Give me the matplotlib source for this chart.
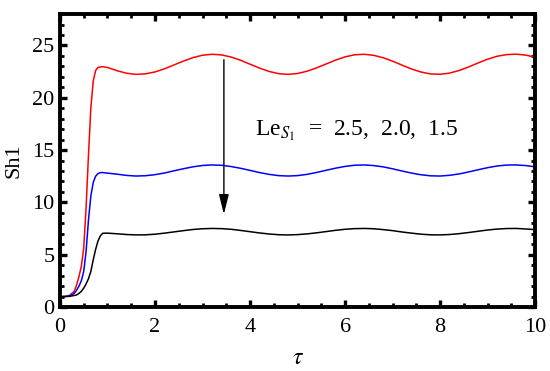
import matplotlib
matplotlib.use("Agg")
import matplotlib.pyplot as plt
from matplotlib.ticker import MultipleLocator

tau = [0, 0.1, 0.2, 0.3, 0.35, 0.4, 0.45, 0.5, 0.55, 0.6, 0.65, 0.7, 0.75, 0.8, 0.85, 0.9,
       1.0, 1.2, 1.4, 1.6, 1.8, 2.0, 2.2, 2.4, 2.6, 2.8, 3.0, 3.2, 3.4, 3.6, 3.8, 4.0,
       4.2, 4.4, 4.6, 4.8, 5.0, 5.2, 5.4, 5.6, 5.8, 6.0, 6.2, 6.4, 6.6, 6.8, 7.0, 7.2,
       7.4, 7.6, 7.8, 8.0, 8.2, 8.4, 8.6, 8.8, 9.0, 9.2, 9.4, 9.6, 9.8, 10.0]

sh1_le25 = [1.0, 1.0, 1.1, 1.5, 2.1, 2.9, 3.9, 5.6, 9.5, 14.5, 19.0, 21.6, 22.6, 22.9, 22.95, 22.97,
            22.9, 22.59, 22.35, 22.24, 22.29, 22.47, 22.77, 23.14, 23.51, 23.84, 24.07, 24.16, 24.10, 23.90, 23.59, 23.21,
            22.84, 22.52, 22.31, 22.24, 22.32, 22.54, 22.86, 23.23, 23.60, 23.91, 24.11, 24.16, 24.06, 23.83, 23.50, 23.12,
            22.75, 22.46, 22.28, 22.25, 22.36, 22.61, 22.95, 23.33, 23.69, 23.97, 24.13, 24.17, 24.08, 23.88]

sh1_le20 = [1.0, 1.0, 1.05, 1.3, 1.6, 2.0, 2.5, 3.4, 5.3, 8.3, 10.6, 11.9, 12.5, 12.75, 12.85, 12.85,
            12.80, 12.70, 12.58, 12.52, 12.55, 12.65, 12.81, 13.02, 13.22, 13.40, 13.53, 13.58, 13.55, 13.43, 13.26, 13.06,
            12.85, 12.68, 12.56, 12.52, 12.56, 12.68, 12.86, 13.07, 13.27, 13.44, 13.55, 13.58, 13.52, 13.40, 13.21, 13.00,
            12.80, 12.64, 12.54, 12.52, 12.59, 12.72, 12.91, 13.12, 13.32, 13.48, 13.57, 13.58, 13.52, 13.40]

sh1_le15 = [1.0, 1.0, 1.02, 1.1, 1.15, 1.3, 1.5, 1.8, 2.2, 2.7, 3.4, 4.5, 5.5, 6.3, 6.8, 7.05,
            7.06, 7.00, 6.93, 6.89, 6.90, 6.96, 7.06, 7.18, 7.30, 7.41, 7.48, 7.51, 7.49, 7.43, 7.32, 7.20,
            7.08, 6.98, 6.91, 6.89, 6.92, 6.99, 7.09, 7.21, 7.33, 7.43, 7.49, 7.51, 7.48, 7.40, 7.30, 7.17,
            7.06, 6.96, 6.90, 6.89, 6.93, 7.01, 7.12, 7.24, 7.36, 7.45, 7.50, 7.51, 7.46, 7.40]

plt.rcParams['font.family'] = ['Liberation Serif', 'DejaVu Serif']
plt.rcParams['mathtext.fontset'] = 'stix'

fig = plt.figure(figsize=(5.5, 3.71), dpi=100)
ax = fig.add_axes([0.109, 0.1725, 0.864, 0.7895])

ax.plot(tau, sh1_le25, color='#ff0000', lw=1.1)
ax.plot(tau, sh1_le20, color='#0000ff', lw=1.1)
ax.plot(tau, sh1_le15, color='#000000', lw=1.1)

ax.set_xlim(0, 10)
ax.set_ylim(0, 28)
ax.xaxis.set_major_locator(MultipleLocator(2))
ax.xaxis.set_minor_locator(MultipleLocator(0.5))
ax.yaxis.set_major_locator(MultipleLocator(5))
ax.yaxis.set_minor_locator(MultipleLocator(1))
ax.tick_params(which='both', direction='in', top=True, right=True, labelsize=16, color='black')
ax.tick_params(which='major', length=5, width=2.4)
ax.tick_params(which='minor', length=3, width=2.0)
ax.tick_params(axis='x', which='major', pad=8)
ax.tick_params(axis='y', which='major', pad=4)
for s in ax.spines.values():
    s.set_linewidth(2.8)

ax.set_xlabel(r'$\tau$', fontsize=17, labelpad=8)
ax.set_ylabel('Sh1', fontsize=16, labelpad=6)

ax.annotate('', xy=(3.45, 8.6), xytext=(3.45, 23.9),
            arrowprops=dict(arrowstyle='-|>,head_length=1.2,head_width=0.3', color='black', lw=1.0))
ax.text(4.1, 16.9, r'Le$_{S_1}$  =  2.5,  2.0,  1.5', fontsize=17, va='center', ha='left')

fig.savefig('out.png', dpi=100)
